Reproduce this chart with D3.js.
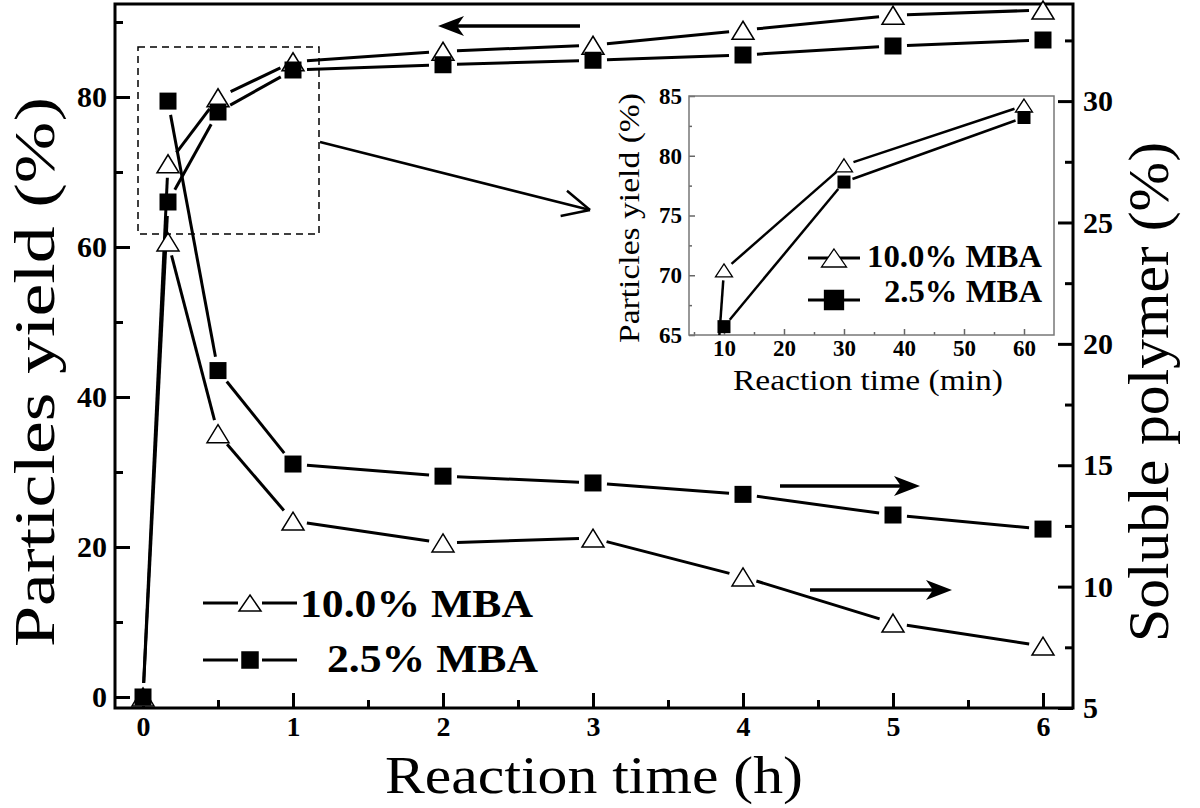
<!DOCTYPE html>
<html><head><meta charset="utf-8">
<script src="https://cdn.jsdelivr.net/npm/d3@7"></script>
<style>
body{margin:0;background:#fff}
svg{display:block}
svg text{font-family:"Liberation Serif","Tinos","Times New Roman","DejaVu Serif Condensed","DejaVu Serif",serif !important;fill:#000}
</style>
</head><body>
<svg id="chart" width="1200" height="808"></svg>
<script>
// ---------- data ----------
const timeH      = [0, 1/6, 0.5, 1, 2, 3, 4, 5, 6];
const yield10    = [0, 71.1, 79.9, 84.7, 86.1, 86.9, 88.9, 90.9, 91.6];
const yield25    = [0, 66.0, 78.0, 83.6, 84.3, 84.9, 85.6, 86.8, 87.6];
const timeHSol   = [1/6, 0.5, 1, 2, 3, 4, 5, 6];
const soluble10  = [24.2, 16.3, 12.7, 11.8, 12.0, 10.4, 8.5, 7.55];
const soluble25  = [30.0, 18.9, 15.05, 14.55, 14.27, 13.8, 12.95, 12.37];
const insetMin    = [0, 10, 30, 60];
const insetYield10 = [0, 70.4, 79.2, 84.2];
const insetYield25 = [0, 65.7, 77.8, 83.2];
const seriesNames = ["10.0% MBA", "2.5% MBA"];
const xTicks  = [0, 1, 2, 3, 4, 5, 6];
const xMinor  = [0.5, 1.5, 2.5, 3.5, 4.5, 5.5];
const yLTicks = [0, 20, 40, 60, 80];
const yLMinor = [10, 30, 50, 70, 90];
const yRTicks = [5, 10, 15, 20, 25, 30];
const yRMinor = [7.5, 12.5, 17.5, 22.5, 27.5, 32.5];
const iXTicks = [10, 20, 30, 40, 50, 60];
const iXMinor = [5, 15, 25, 35, 45, 55];
const iYTicks = [65, 70, 75, 80, 85];
const iYMinor = [67.5, 72.5, 77.5, 82.5];
const xTitle = "Reaction time (h)";
const yLTitle = "Particles yield (%)";
const yRTitle = "Soluble polymer (%)";
const iXTitle = "Reaction time (min)";
const iYTitle = "Particles yield (%)";

// ---------- setup ----------
const svg = d3.select("#chart");
const L = 115, R = 1073, T = 4, B = 708;
const x  = d3.scaleLinear().domain([-0.1867, 6.2]).range([L, R]);
const yL = d3.scaleLinear().domain([-1.47, 92.4]).range([B, T]);
const yR = d3.scaleLinear().domain([5, 34.0]).range([B, T]);

const tri = (w, h) => `M0,${-h/2}L${w/2},${h/2}L${-w/2},${h/2}Z`;
const sq  = s => `M${-s/2},${-s/2}h${s}v${s}h${-s}Z`;

function gapLine(g, pts, gap, sw) {
  for (let i = 0; i < pts.length - 1; i++) {
    const [x0, y0] = pts[i], [x1, y1] = pts[i+1];
    const dx = x1 - x0, dy = y1 - y0, len = Math.hypot(dx, dy);
    if (len <= 2 * gap) continue;
    const ux = dx / len, uy = dy / len;
    g.append("line")
      .attr("x1", x0 + ux*gap).attr("y1", y0 + uy*gap)
      .attr("x2", x1 - ux*gap).attr("y2", y1 - uy*gap)
      .attr("stroke", "#000").attr("stroke-width", sw);
  }
}

function styleAxis(g, size, color) {
  g.attr("font-family", null);
  g.select(".domain").remove();
  g.selectAll(".tick line").attr("stroke", color).attr("stroke-width", 3);
  g.selectAll(".tick text").attr("font-size", size).attr("font-weight", "bold").attr("fill", "#000");
}

// ---------- main axes ----------
const gx = svg.append("g").attr("transform", `translate(0,${B})`)
  .call(d3.axisBottom(x).tickValues(xTicks).tickSizeInner(-15).tickSizeOuter(0).tickPadding(8).tickFormat(d3.format("d")));
styleAxis(gx, 28, "#000");
const gxm = svg.append("g").attr("transform", `translate(0,${B})`)
  .call(d3.axisBottom(x).tickValues(xMinor).tickSizeInner(-8).tickSizeOuter(0).tickFormat(""));
styleAxis(gxm, 28, "#000");

const gyl = svg.append("g").attr("transform", `translate(${L},0)`)
  .call(d3.axisLeft(yL).tickValues(yLTicks).tickSizeInner(-15).tickSizeOuter(0).tickPadding(8));
styleAxis(gyl, 30, "#000");
const gylm = svg.append("g").attr("transform", `translate(${L},0)`)
  .call(d3.axisLeft(yL).tickValues(yLMinor).tickSizeInner(-8).tickSizeOuter(0).tickFormat(""));
styleAxis(gylm, 30, "#000");

const gyr = svg.append("g").attr("transform", `translate(${R},0)`)
  .call(d3.axisRight(yR).tickValues(yRTicks).tickSizeInner(-15).tickSizeOuter(0).tickPadding(10));
styleAxis(gyr, 30, "#000");
const gyrm = svg.append("g").attr("transform", `translate(${R},0)`)
  .call(d3.axisRight(yR).tickValues(yRMinor).tickSizeInner(-8).tickSizeOuter(0).tickFormat(""));
styleAxis(gyrm, 30, "#000");

svg.append("rect").attr("x", L).attr("y", T).attr("width", R-L).attr("height", B-T)
  .attr("fill", "none").attr("stroke", "#000").attr("stroke-width", 3);

// titles
svg.append("text").attr("x", 594).attr("y", 793).attr("text-anchor", "middle")
  .attr("font-size", 53).attr("textLength", 418).attr("lengthAdjust", "spacingAndGlyphs").text(xTitle);
svg.append("text").attr("transform", "translate(54,372) rotate(-90)").attr("text-anchor", "middle")
  .attr("font-size", 56).attr("textLength", 550).attr("lengthAdjust", "spacingAndGlyphs").text(yLTitle);
svg.append("text").attr("transform", "translate(1168,392) rotate(-90)").attr("text-anchor", "middle")
  .attr("font-size", 58).attr("textLength", 500).attr("lengthAdjust", "spacingAndGlyphs").text(yRTitle);

// ---------- main series ----------
const lines = svg.append("g");
const ptsY10 = timeH.map((t, i) => [x(t), yL(yield10[i])]);
const ptsY25 = timeH.map((t, i) => [x(t), yL(yield25[i])]);
const ptsS10 = timeHSol.map((t, i) => [x(t), yR(soluble10[i])]);
const ptsS25 = timeHSol.map((t, i) => [x(t), yR(soluble25[i])]);
[ptsY10, ptsY25, ptsS10, ptsS25].forEach(p => gapLine(lines, p, 14, 3));

const marks = svg.append("g");
[ptsY10, ptsS10].forEach(p => marks.selectAll(null).data(p).enter().append("path")
  .attr("d", tri(22, 18)).attr("transform", d => `translate(${d[0]},${d[1]})`)
  .attr("fill", "#fff").attr("stroke", "#000").attr("stroke-width", 1.5));
[ptsY25, ptsS25].forEach(p => marks.selectAll(null).data(p).enter().append("path")
  .attr("d", sq(17)).attr("transform", d => `translate(${d[0]},${d[1]})`)
  .attr("fill", "#000"));

// ---------- main legend ----------
const leg = svg.append("g");
const legRows = [{y: 603, base: 617, mk: tri(22, 16), fill: "#fff", tx: 300, tl: 233},
                 {y: 660, base: 672, mk: sq(16), fill: "#000", tx: 327, tl: 211}];
seriesNames.forEach((name, i) => {
  const r = legRows[i];
  leg.append("line").attr("x1", 203).attr("x2", 238).attr("y1", r.y).attr("y2", r.y).attr("stroke", "#000").attr("stroke-width", 3);
  leg.append("line").attr("x1", 262).attr("x2", 297).attr("y1", r.y).attr("y2", r.y).attr("stroke", "#000").attr("stroke-width", 3);
  leg.append("path").attr("d", r.mk).attr("transform", `translate(250,${r.y})`)
    .attr("fill", r.fill).attr("stroke", "#000").attr("stroke-width", 1.5);
  leg.append("text").attr("x", r.tx).attr("y", r.base).attr("font-size", 40).attr("font-weight", "bold")
    .attr("textLength", r.tl).attr("lengthAdjust", "spacingAndGlyphs").text(name);
});

// ---------- annotations ----------
const ann = svg.append("g");
function arrow(x0, y0, x1, y1) {
  const dx = x1 - x0, dy = y1 - y0, len = Math.hypot(dx, dy), ux = dx/len, uy = dy/len;
  const hl = 26, hw = 10, notch = 19;
  ann.append("line").attr("x1", x0).attr("y1", y0).attr("x2", x1 - ux*notch).attr("y2", y1 - uy*notch)
    .attr("stroke", "#000").attr("stroke-width", 3.5);
  const bx = x1 - ux*hl, by = y1 - uy*hl, nx = -uy, ny = ux;
  ann.append("path").attr("d",
    `M${x1},${y1}L${bx + nx*hw},${by + ny*hw}L${x1 - ux*notch},${y1 - uy*notch}L${bx - nx*hw},${by - ny*hw}Z`)
    .attr("fill", "#000");
}
arrow(580, 26, 438, 26);
arrow(780, 486, 920, 486);
arrow(810, 590, 952, 590);
ann.append("rect").attr("x", 138).attr("y", 47).attr("width", 181).attr("height", 187)
  .attr("fill", "none").attr("stroke", "#000").attr("stroke-width", 1.5).attr("stroke-dasharray", "7,5");
(function(){
  const x0 = 320, y0 = 142, x1 = 590, y1 = 210;
  ann.append("line").attr("x1", x0).attr("y1", y0).attr("x2", x1).attr("y2", y1).attr("stroke", "#000").attr("stroke-width", 2.5);
  const a = Math.atan2(y1 - y0, x1 - x0);
  [0.45, -0.45].forEach(d => {
    ann.append("line").attr("x1", x1).attr("y1", y1)
      .attr("x2", x1 - 30*Math.cos(a + d)).attr("y2", y1 - 30*Math.sin(a + d))
      .attr("stroke", "#000").attr("stroke-width", 2.5);
  });
})();

// ---------- inset ----------
const IL = 689, IR = 1054, IT = 96, IB = 335;
const ix = d3.scaleLinear().domain([4.17, 65]).range([IL, IR]);
const iy = d3.scaleLinear().domain([65, 85]).range([IB, IT]);
const inset = svg.append("g");
inset.append("rect").attr("x", IL).attr("y", IT).attr("width", IR-IL).attr("height", IB-IT).attr("fill", "#fff");
svg.append("clipPath").attr("id", "iclip").append("rect").attr("x", IL).attr("y", IT).attr("width", IR-IL).attr("height", IB-IT);

function styleInset(g) {
  g.attr("font-family", null);
  g.select(".domain").remove();
  g.selectAll(".tick line").attr("stroke", "#666").attr("stroke-width", 1.5);
  g.selectAll(".tick text").attr("font-size", 23).attr("font-weight", "bold").attr("fill", "#000");
}
const gix = inset.append("g").attr("transform", `translate(0,${IB})`)
  .call(d3.axisBottom(ix).tickValues(iXTicks).tickSizeInner(-6).tickSizeOuter(0).tickPadding(5).tickFormat(d3.format("d")));
styleInset(gix);
const gixm = inset.append("g").attr("transform", `translate(0,${IB})`)
  .call(d3.axisBottom(ix).tickValues(iXMinor).tickSizeInner(-3).tickSizeOuter(0).tickFormat(""));
styleInset(gixm);
const giy = inset.append("g").attr("transform", `translate(${IL},0)`)
  .call(d3.axisLeft(iy).tickValues(iYTicks).tickSizeInner(-6).tickSizeOuter(0).tickPadding(7));
styleInset(giy);
const giym = inset.append("g").attr("transform", `translate(${IL},0)`)
  .call(d3.axisLeft(iy).tickValues(iYMinor).tickSizeInner(-3).tickSizeOuter(0).tickFormat(""));
styleInset(giym);
inset.append("rect").attr("x", IL).attr("y", IT).attr("width", IR-IL).attr("height", IB-IT)
  .attr("fill", "none").attr("stroke", "#777").attr("stroke-width", 1.5);

inset.append("text").attr("x", 868).attr("y", 390).attr("text-anchor", "middle")
  .attr("font-size", 29).attr("textLength", 270).attr("lengthAdjust", "spacingAndGlyphs").text(iXTitle);
inset.append("text").attr("transform", "translate(639,218) rotate(-90)").attr("text-anchor", "middle")
  .attr("font-size", 30).attr("textLength", 250).attr("lengthAdjust", "spacingAndGlyphs").text(iYTitle);

const ilines = inset.append("g").attr("clip-path", "url(#iclip)");
const iP10 = insetMin.map((t, i) => [ix(t), iy(insetYield10[i])]);
const iP25 = insetMin.map((t, i) => [ix(t), iy(insetYield25[i])]);
gapLine(ilines, iP10, 10, 2.5);
gapLine(ilines, iP25, 9, 2.5);
const imarks = inset.append("g");
imarks.selectAll(null).data(iP10.slice(1)).enter().append("path").attr("d", tri(17, 13))
  .attr("transform", d => `translate(${d[0]},${d[1]})`).attr("fill", "#fff").attr("stroke", "#000").attr("stroke-width", 1.3);
imarks.selectAll(null).data(iP25.slice(1)).enter().append("path").attr("d", sq(13))
  .attr("transform", d => `translate(${d[0]},${d[1]})`).attr("fill", "#000");

const ilegRows = [{y: 258, base: 267, mk: tri(25, 18), fill: "#fff", tl: 175},
                  {y: 300, base: 302, mk: sq(19), fill: "#000", tl: 158}];
seriesNames.forEach((name, i) => {
  const r = ilegRows[i];
  inset.append("line").attr("x1", 808).attr("x2", 860).attr("y1", r.y).attr("y2", r.y).attr("stroke", "#000").attr("stroke-width", 3);
  inset.append("path").attr("d", r.mk).attr("transform", `translate(834,${r.y})`)
    .attr("fill", r.fill).attr("stroke", "#000").attr("stroke-width", 1.3);
  inset.append("text").attr("x", 1042).attr("y", r.base).attr("text-anchor", "end").attr("font-size", 31)
    .attr("font-weight", "bold").attr("textLength", r.tl).attr("lengthAdjust", "spacingAndGlyphs").text(name);
});
</script>
</body></html>
